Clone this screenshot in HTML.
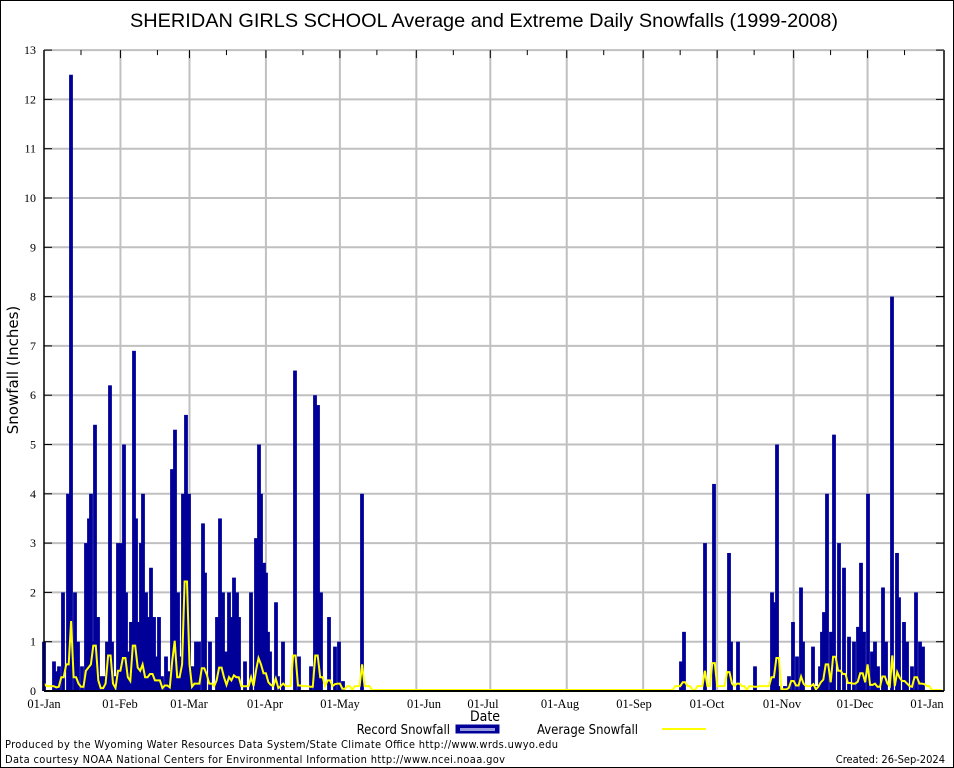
<!DOCTYPE html>
<html><head><meta charset="utf-8"><style>
html,body{margin:0;padding:0;background:#fff}
svg{display:block}
</style></head><body>
<svg id="s" width="954" height="768" xmlns="http://www.w3.org/2000/svg">
<rect x="0.5" y="0.5" width="953" height="767" fill="#fff" stroke="#000" stroke-width="1"/>
<g id="grid"></g>
<g id="bars"></g>
<polyline id="avg" fill="none" stroke="#ffff00" stroke-width="2"/>
<g id="axes"></g>
<text x="484" y="27" font-family="Liberation Sans, sans-serif" font-size="19.5" text-anchor="middle" textLength="708" lengthAdjust="spacingAndGlyphs">SHERIDAN GIRLS SCHOOL Average and Extreme Daily Snowfalls (1999-2008)</text>
<text transform="translate(18,370) rotate(-90)" font-family="DejaVu Sans, sans-serif" font-size="15" text-anchor="middle">Snowfall (Inches)</text>
<text x="485" y="721" font-family="DejaVu Sans Condensed, DejaVu Sans, sans-serif" font-size="14" text-anchor="middle">Date</text>
<text x="450" y="734" font-family="DejaVu Sans Condensed, DejaVu Sans, sans-serif" font-size="13" text-anchor="end">Record Snowfall</text>
<rect x="456" y="725" width="43" height="8" fill="#000099" stroke="#000099"/>
<rect x="460" y="728" width="35" height="3" fill="#9999dd"/>
<text x="537" y="734" font-family="DejaVu Sans Condensed, DejaVu Sans, sans-serif" font-size="13">Average Snowfall</text>
<line x1="662" y1="729" x2="706" y2="729" stroke="#ffff00" stroke-width="2"/>
<text x="5" y="748" font-family="DejaVu Sans Condensed, DejaVu Sans, sans-serif" font-size="11" textLength="553">Produced by the Wyoming Water Resources Data System/State Climate Office http://www.wrds.uwyo.edu</text>
<text x="5" y="763" font-family="DejaVu Sans Condensed, DejaVu Sans, sans-serif" font-size="11" textLength="500">Data courtesy NOAA National Centers for Environmental Information http://www.ncei.noaa.gov</text>
<text x="945" y="763" font-family="DejaVu Sans Condensed, DejaVu Sans, sans-serif" font-size="11" text-anchor="end">Created:  26-Sep-2024</text>
</svg>
<script>
var NS="http://www.w3.org/2000/svg";
function el(p,t,a){var e=document.createElementNS(NS,t);for(var k in a)e.setAttribute(k,a[k]);document.getElementById(p).appendChild(e);return e;}
var X0=44,X1=944,Y0=691,U=49.3;
function Y(v){return Y0-v*U;}
var months=["01-Jan","01-Feb","01-Mar","01-Apr","01-May","01-Jun","01-Jul","01-Aug","01-Sep","01-Oct","01-Nov","01-Dec","01-Jan"];
var md=[0,31,59,90,120,151,181,212,243,273,304,334,365];
var lx=[44,120,189,265,340,424,483,560,634,707,782,855,927];
var pd=(X1-X0)/365;
for(var i=1;i<=13;i++){el("grid","line",{x1:X0,x2:X1,y1:Y(i),y2:Y(i),stroke:"#c0c0c0","stroke-width":2});}
for(var i=1;i<12;i++){var x=X0+md[i]*pd;el("grid","line",{x1:x,x2:x,y1:Y(13),y2:Y0,stroke:"#c0c0c0","stroke-width":2});}
var B=[[44,1],[54,0.6],[57,0.4],[59,0.5],[63,2],[68,4],[71,12.5],[75,2],[78,1],[82,0.5],[86,3],[89,3.5],[91,4],[93,1],[95,5.4],[98,1.5],[101,0.3],[104,0.3],[107,1],[110,6.2],[112,1],[115,0.3],[118,3],[121,3],[124,5],[126,2],[129,0.8],[131,1.4],[134,6.9],[136,3.5],[138,1.4],[141,3],[143,4],[146,2],[148,1.5],[151,2.5],[154,1.5],[156,0.7],[159,1.5],[162,0.3],[166,0.7],[169,0.4],[172,4.5],[175,5.3],[178,2],[180,0.7],[183,4],[186,5.6],[189,4],[191,0.5],[193,0.5],[196,1],[199,1],[203,3.4],[205,2.4],[210,1],[217,1.5],[220,3.5],[223,2],[226,0.8],[229,2],[231,1.5],[234,2.3],[237,2],[239,1.5],[245,0.6],[251,2],[256,3.1],[259,5],[261,4],[264,2.6],[266,2.4],[268,1.2],[270,0.8],[276,1.8],[278,0.3],[283,1],[295,6.5],[299,0.7],[311,0.5],[315,6],[318,5.8],[321,2],[329,1.5],[335,0.9],[339,1],[343,0.2],[362,4],
[681,0.6],[684,1.2],[705,3],[714,4.2],[729,2.8],[731,1],[738,1],[755,0.5],[772,2],[774,1.8],[777,5],[780,0.1],[785,0.1],[789,0.3],[793,1.4],[797,0.7],[801,2.1],[803,1],[813,0.9],[817,0.1],[820,0.5],[822,1.2],[824,1.6],[827,4],[831,1.2],[834,5.2],[839,3],[844,2.5],[849,1.1],[854,1],[858,1.3],[861,2.6],[864,1.2],[868,4],[872,0.8],[875,1],[878,0.5],[883,2.1],[886,1],[892,8],[897,2.8],[899,1.9],[904,1.4],[907,1],[912,0.5],[916,2],[920,1],[923,0.9]];
B.forEach(function(b){var w=3.8;el("bars","rect",{x:b[0]-w/2,y:Y(b[1]),width:w,height:b[1]*U,fill:"#000099"});});
var pts=[];var peaks={71:1.4,109:1.3,186:2.2,134:0.9,175:1.0,95:0.9};
for(var x=X0;x<=X1;x+=2.466){var v=0;B.forEach(function(b){if(Math.abs(b[0]-x)<2){var a=peaks[b[0]]!==undefined?peaks[b[0]]:Math.min(b[1]*0.13,0.7);v=Math.max(v,a);}});
 if(v==0){var near=B.some(function(b){return Math.abs(b[0]-x)<8;});v=near?0.08:0.0;}
 pts.push(x.toFixed(1)+","+(Y(v)-1).toFixed(1));}
document.getElementById("avg").setAttribute("points",pts.join(" "));
el("axes","line",{x1:X0,x2:X1,y1:Y0,y2:Y0,stroke:"#000","stroke-width":2});
el("axes","line",{x1:X0,x2:X0,y1:Y(13),y2:Y0,stroke:"#000","stroke-width":1.5});
el("axes","line",{x1:X1,x2:X1,y1:Y(13),y2:Y0,stroke:"#000","stroke-width":1.5});
el("axes","line",{x1:X0,x2:X1,y1:Y(13),y2:Y(13),stroke:"#c0c0c0","stroke-width":1.5});
for(var i=0;i<=13;i++){el("axes","line",{x1:X0,x2:X0+8,y1:Y(i),y2:Y(i),stroke:"#000"});el("axes","line",{x1:X1-8,x2:X1,y1:Y(i),y2:Y(i),stroke:"#000"});
 var t=el("axes","text",{x:36,y:Y(i)+4,"font-family":"Liberation Serif, serif","font-size":12,"text-anchor":"end"});t.textContent=i;}
for(var i=0;i<=12;i++){var x=X0+md[i]*pd;
 var t=el("axes","text",{x:lx[i],y:708,"font-family":"Liberation Serif, serif","font-size":12.5,"text-anchor":"middle"});t.textContent=months[i];
 if(i<12){var xm=X0+(md[i]+15)*pd;el("axes","line",{x1:xm,x2:xm,y1:Y(13),y2:Y(13)+5,stroke:"#000"});el("axes","line",{x1:x,x2:x,y1:Y(13),y2:Y(13)+8,stroke:"#000"});}}
</script>
</body></html>
